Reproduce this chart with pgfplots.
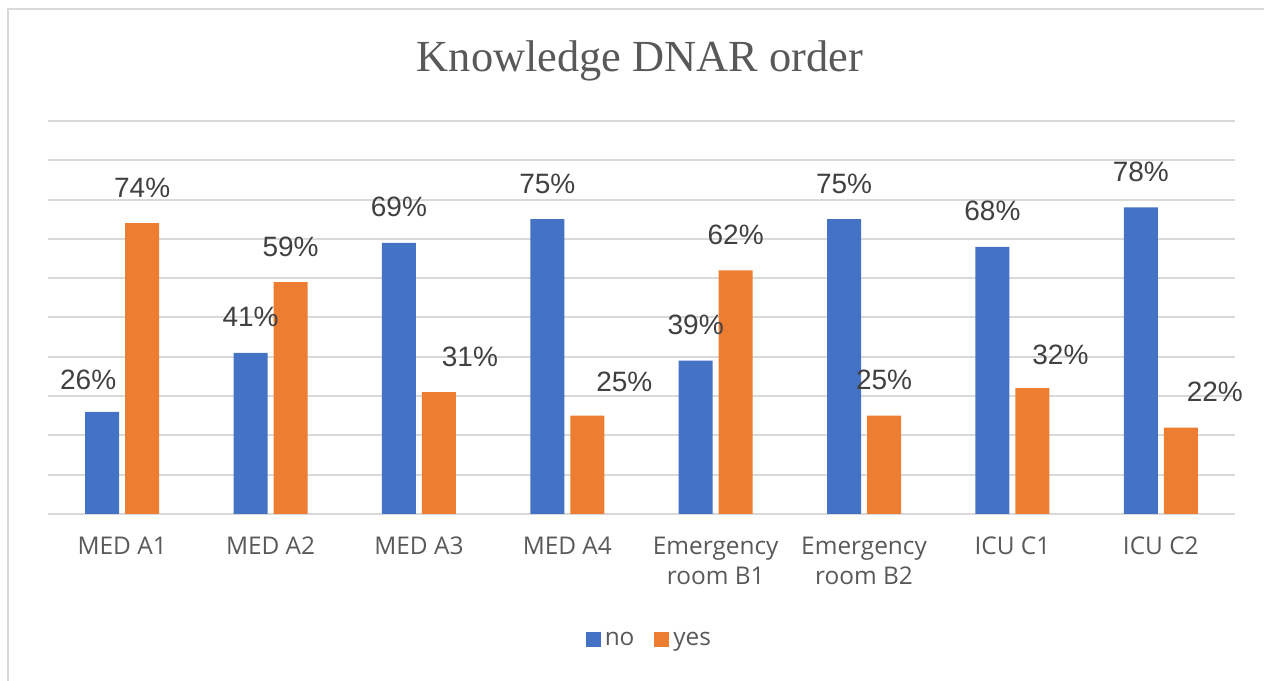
\documentclass[border=0pt]{standalone}
\usepackage{fontspec}
\setmainfont{Liberation Sans}
\newfontfamily\titlefont{Liberation Serif}
\newfontfamily\catfont{Open Sans}
\usepackage{pgfplots}
\usepackage{pgfplotstable}
\pgfplotsset{compat=1.18}
\definecolor{cblue}{HTML}{4472C4}
\definecolor{corange}{HTML}{ED7D31}
\definecolor{gridgray}{HTML}{D9D9D9}
\definecolor{labgray}{HTML}{595959}
\definecolor{valgray}{HTML}{404040}

\pgfplotstableread{
x no dxno dyno yes dxyes dyyes
0 26 -7 -2 74 0 0
1 41 0 0 59 0 0
2 69 0 0 31 15.5 0
3 75 0 0 25 18.5 -1
4 39 0 0 62 0 0
5 75 0 0 25 0 0
6 68 0 0 32 14 -1
7 78 0 0 22 17 0
}\datatable

\begin{document}
\begin{tikzpicture}
\useasboundingbox (0,0) rectangle (632bp,340.5bp);
\draw[gridgray, line width=1.2bp] (4bp,0) -- (4bp,336bp) -- (632bp,336bp);
\node[font=\titlefont\fontsize{22.2bp}{26bp}\selectfont, text=labgray, anchor=base, inner sep=0pt] at (320bp,304.5bp) {Knowledge DNAR order};
\begin{axis}[
  at={(24bp,83.5bp)}, anchor=south west,
  scale only axis, width=593.5bp, height=196.5bp,
  xmin=-0.5, xmax=7.5, ymin=0, ymax=100,
  axis line style={draw=none},
  ytick={0,10,...,100}, yticklabels={},
  ymajorgrids, grid style={gridgray, line width=1bp},
  major tick length=0pt,
  xtick={0,...,7},
  xticklabels={MED A1, MED A2, MED A3, MED A4, {Emergency\\room B1}, {Emergency\\room B2}, ICU C1, ICU C2},
  xticklabel style={font=\catfont\fontsize{12.2bp}{15bp}\selectfont, text=labgray, align=center, yshift=-8bp},
  ybar=3bp, bar width=17bp,
  point meta=y,
  /pgf/number format/assume math mode=true,
  nodes near coords={\pgfmathprintnumber{\pgfplotspointmeta}\%},
  every node near coord/.append style={anchor=base, font=\fontsize{14bp}{16bp}\selectfont, text=valgray, xshift=\dx bp, yshift={(13+\dy)*1bp}},
  legend style={at={(0.5075,-0.3206)}, anchor=center, draw=none, fill=none, legend columns=2,
    font=\catfont\fontsize{12.2bp}{15bp}\selectfont, text=labgray,
    /tikz/every even column/.append style={column sep=8bp}},
  legend cell align=left,
  clip=false,
]
\addplot[fill=cblue, draw=none,
  visualization depends on={\thisrow{dxno} \as \dx},
  visualization depends on={\thisrow{dyno} \as \dy},
  legend image code/.code={\fill[cblue] (-1.5bp,-3.75bp) rectangle (6bp,3.75bp);}]
  table[x=x, y=no] {\datatable};
\addlegendentry{no}
\addplot[fill=corange, draw=none,
  visualization depends on={\thisrow{dxyes} \as \dx},
  visualization depends on={\thisrow{dyyes} \as \dy},
  legend image code/.code={\fill[corange] (-1.5bp,-3.75bp) rectangle (6bp,3.75bp);}]
  table[x=x, y=yes] {\datatable};
\addlegendentry{yes}
\end{axis}
\end{tikzpicture}
\end{document}
